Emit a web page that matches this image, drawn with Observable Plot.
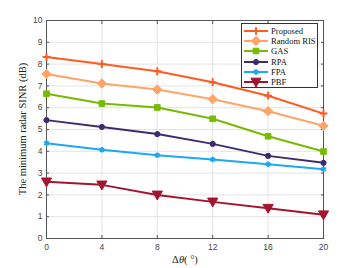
<!DOCTYPE html>
<html><head><meta charset="utf-8">
<script src="https://cdn.jsdelivr.net/npm/d3@7"></script>
<script src="https://cdn.jsdelivr.net/npm/@observablehq/plot@0.6"></script>
<style>
body{margin:0;background:#fff;}
#wrap{position:relative;width:357px;height:268px;}
#legend{position:absolute;left:241px;top:23px;width:77px;height:65px;border:1px solid #333;background:#fff;font-family:"Liberation Serif",serif;font-size:8.6px;color:#111;box-sizing:border-box;}
#legend .row{position:absolute;left:0;height:10px;display:flex;align-items:center;white-space:nowrap;}
#legend svg{display:block;flex:none;}
</style>
</head><body><div id="wrap"></div>
<script>
const angles = [0, 4, 8, 12, 16, 20];
const seriesNames = ["Proposed", "Random RIS", "GAS", "RPA", "FPA", "PBF"];
const proposed = [8.33, 8.00, 7.67, 7.17, 6.55, 5.73];
const randomRIS = [7.55, 7.11, 6.83, 6.39, 5.84, 5.17];
const gas = [6.64, 6.19, 6.01, 5.49, 4.69, 3.99];
const rpa = [5.43, 5.12, 4.79, 4.34, 3.79, 3.47];
const fpa = [4.37, 4.07, 3.82, 3.62, 3.41, 3.18];
const pbf = [2.60, 2.46, 2.00, 1.68, 1.39, 1.09];
const xTicks = [0, 4, 8, 12, 16, 20];
const yTicks = [0, 1, 2, 3, 4, 5, 6, 7, 8, 9, 10];

const colors = ["#ff5a1f", "#ffa466", "#77bb00", "#3d2b6e", "#1ea7f5", "#a3152f"];
const triDown = {draw(ctx, size){const h = Math.sqrt(size*1.3); ctx.moveTo(-h*0.6,-h*0.45); ctx.lineTo(h*0.6,-h*0.45); ctx.lineTo(0,h*0.6); ctx.closePath();}};
const symbols = ["plus", "diamond2", "square2", "circle", "asterisk", triDown];
const radii = [2.6, 4.2, 3.6, 2.6, 2.6, 4.2];
const allVals = [proposed, randomRIS, gas, rpa, fpa, pbf];

const data = [];
seriesNames.forEach((s, i) => angles.forEach((a, j) => data.push({series: s, idx: i, x: a, y: allVals[i][j]})));

const marks = [
  Plot.gridX(xTicks, {stroke: "#e3e3e3", strokeOpacity: 1}),
  Plot.gridY(yTicks, {stroke: "#e3e3e3", strokeOpacity: 1}),
  Plot.frame({stroke: "#555"}),
  Plot.axisX({ticks: xTicks, tickSize: -3, stroke: "#555", fill: "#444", tickPadding: 8, label: null, fontSize: 8.5}),
  Plot.axisX({ticks: xTicks, anchor: "top", tickSize: -3, stroke: "#555", tickFormat: () => "", label: null}),
  Plot.axisY({ticks: yTicks, tickSize: -3, stroke: "#555", fill: "#444", tickPadding: 7, label: null, fontSize: 8.5}),
  Plot.axisY({ticks: yTicks, anchor: "right", tickSize: -3, stroke: "#555", tickFormat: () => "", label: null})
];
seriesNames.forEach((s, i) => {
  const d = data.filter(r => r.idx === i);
  marks.push(Plot.line(d, {x: "x", y: "y", stroke: colors[i], strokeWidth: 2}));
  const filled = i !== 0 && i !== 4;
  marks.push(Plot.dot(d, {x: "x", y: "y", symbol: () => symbols[i], r: radii[i],
    fill: filled ? colors[i] : "none", stroke: colors[i], strokeWidth: filled ? 1 : 2}));
});

const chart = Plot.plot({
  width: 357, height: 268,
  marginLeft: 46, marginRight: 34, marginTop: 20, marginBottom: 30,
  x: {domain: [0, 20]},
  y: {domain: [0, 10]},
  symbol: {type: "identity"},
  style: {fontFamily: "'Liberation Sans', Arial, sans-serif", background: "#fff"},
  marks
});
const wrap = document.getElementById("wrap");
wrap.appendChild(chart);

// axis titles
const svg = d3.select(chart);
svg.append("text").attr("x", 185).attr("y", 263).attr("text-anchor", "middle")
  .attr("font-family", "'Liberation Serif', serif").attr("font-size", 10.5).attr("fill", "#222")
  .html('Δ<tspan font-style="italic">θ</tspan>( °)');
svg.append("text").attr("transform", "translate(26,129) rotate(-90)").attr("text-anchor", "middle")
  .attr("font-family", "'Liberation Serif', serif").attr("font-size", 10.5).attr("fill", "#222")
  .text("The minimum radar SINR (dB)");

// legend
const leg = document.createElement("div");
leg.id = "legend";
seriesNames.forEach((s, i) => {
  const row = document.createElement("div");
  row.className = "row";
  row.style.top = (2 + i * 10.2) + "px";
  const sv = d3.create("svg").attr("width", 29).attr("height", 10);
  sv.append("line").attr("x1", 2).attr("x2", 26).attr("y1", 5).attr("y2", 5).attr("stroke", colors[i]).attr("stroke-width", 2);
  const symType = typeof symbols[i] === "string" ? {plus: d3.symbolPlus, diamond2: d3.symbolDiamond2, square2: d3.symbolSquare2, circle: d3.symbolCircle, asterisk: d3.symbolAsterisk}[symbols[i]] : symbols[i];
  const filled = i !== 0 && i !== 4;
  sv.append("path").attr("d", d3.symbol(symType, Math.PI * radii[i] * radii[i])()).attr("transform", "translate(14,5)")
    .attr("fill", filled ? colors[i] : "none").attr("stroke", colors[i]).attr("stroke-width", filled ? 1 : 2);
  row.appendChild(sv.node());
  const t = document.createElement("span");
  t.textContent = s;
  row.appendChild(t);
  leg.appendChild(row);
});
wrap.appendChild(leg);
</script></body></html>
